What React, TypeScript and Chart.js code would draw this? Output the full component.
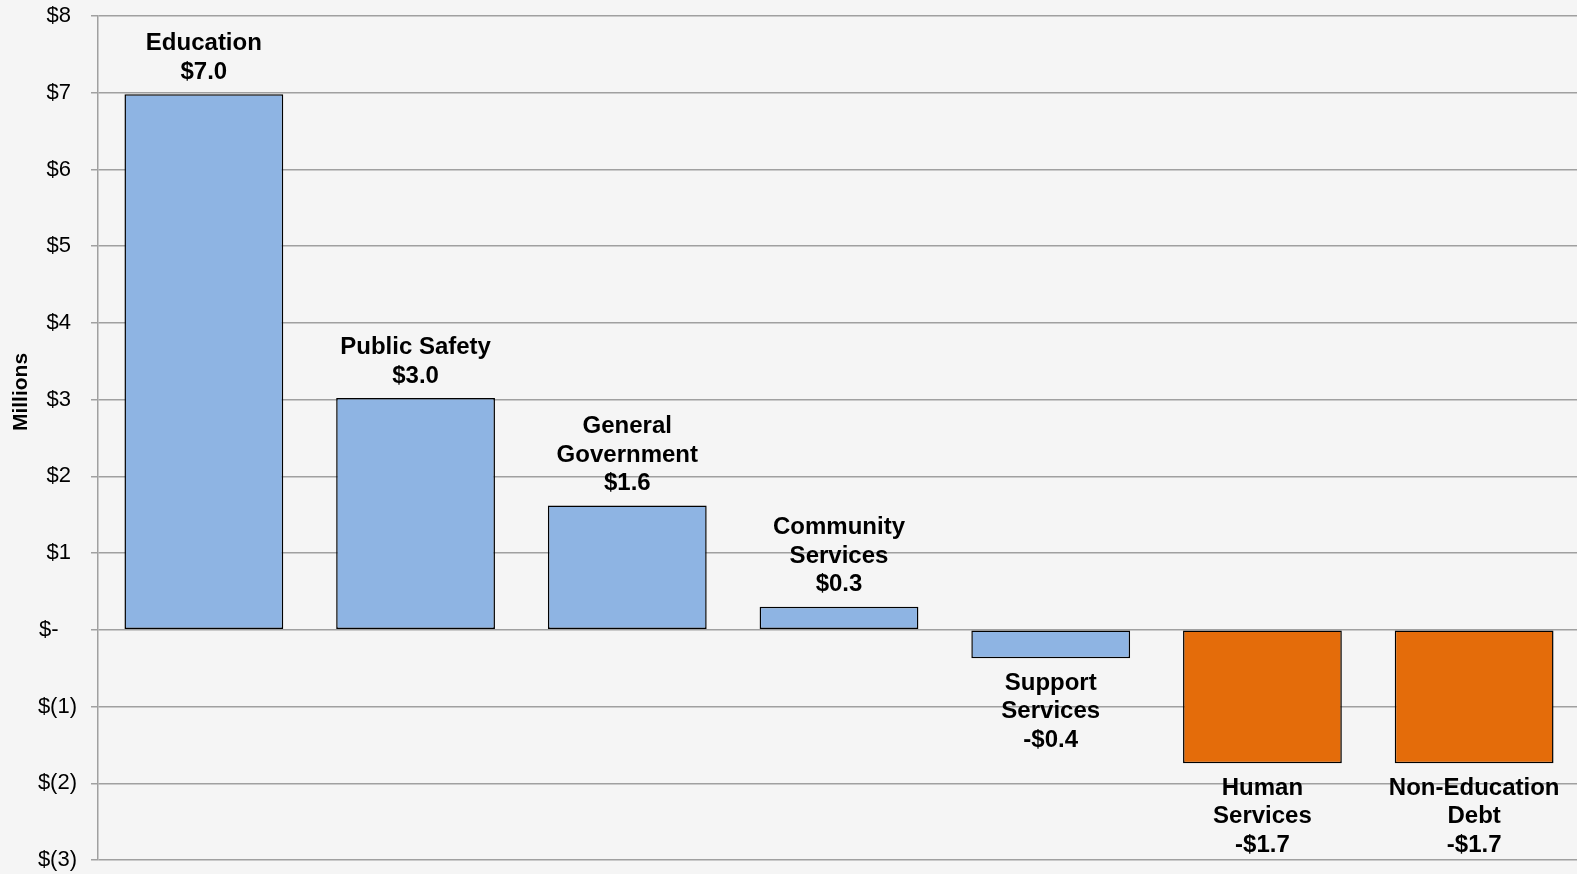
import React, { useEffect, useRef } from "react";
import { Chart, registerables } from "chart.js";

Chart.register(...registerables);

const categories: string[][] = [
  ["Education"],
  ["Public Safety"],
  ["General", "Government"],
  ["Community", "Services"],
  ["Support", "Services"],
  ["Human", "Services"],
  ["Non-Education", "Debt"],
];
const values: number[] = [6.98, 3.02, 1.62, 0.3, -0.37, -1.74, -1.74];
const barColors: string[] = ["#8EB4E3", "#8EB4E3", "#8EB4E3", "#8EB4E3", "#8EB4E3", "#E46C0A", "#E46C0A"];
const tickValues: number[] = [8, 7, 6, 5, 4, 3, 2, 1, 0, -1, -2, -3];
const tickLabels: string[] = ["$8", "$7", "$6", "$5", "$4", "$3", "$2", "$1", "$-", "$(1)", "$(2)", "$(3)"];
const axisTitle = "Millions";

const FONT = '"Liberation Sans", Arial, sans-serif';

function fmt(v: number): string {
  const s = "$" + Math.abs(v).toFixed(1);
  return v < 0 ? "-" + s : s;
}

// accounting-style trailing pad so that digits align like the original axis
function pad(label: string, v: number): string {
  if (v > 0) return label + "\u2008";
  if (v === 0) return label + "\u2007\u2008";
  return label;
}

const labelPlugin = {
  id: "barLabels",
  afterDatasetsDraw(chart: any) {
    const ctx = chart.ctx;
    const meta = chart.getDatasetMeta(0);
    ctx.save();
    ctx.fillStyle = "#000";
    ctx.font = "bold 24px " + FONT;
    ctx.textAlign = "center";
    ctx.textBaseline = "middle";
    const lh = 28.5;
    meta.data.forEach((bar: any, i: number) => {
      const lines = [...categories[i], fmt(values[i])];
      const x = bar.x;
      if (values[i] >= 0) {
        const lastY = bar.y - 22;
        lines.forEach((ln, j) => {
          ctx.fillText(ln, x, lastY - (lines.length - 1 - j) * lh);
        });
      } else {
        const firstY = bar.y + 25;
        lines.forEach((ln, j) => {
          ctx.fillText(ln, x, firstY + j * lh);
        });
      }
    });
    // axis title
    ctx.translate(21, 392);
    ctx.rotate(-Math.PI / 2);
    ctx.font = "bold 21px " + FONT;
    ctx.fillText(axisTitle, 0, 0);
    ctx.restore();
  },
};

const bgPlugin = {
  id: "bg",
  beforeDraw(chart: any) {
    const ctx = chart.ctx;
    ctx.save();
    ctx.fillStyle = "#F5F5F5";
    ctx.fillRect(0, 0, chart.width, chart.height);
    ctx.restore();
  },
};

export default function App() {
  const ref = useRef<HTMLCanvasElement | null>(null);
  useEffect(() => {
    document.body.style.margin = "0";
    document.body.style.overflow = "hidden";
    document.body.style.background = "#F5F5F5";
    const canvas = ref.current!;
    const chart = new Chart(canvas, {
      type: "bar",
      data: {
        labels: categories.map((c) => c.join(" ")),
        datasets: [
          {
            data: values,
            backgroundColor: barColors,
            borderColor: "#000",
            borderWidth: 1.5,
            borderSkipped: false,
            barPercentage: 0.75,
            categoryPercentage: 1,
          },
        ],
      },
      options: {
        animation: false,
        responsive: false,
        devicePixelRatio: 1,
        layout: { padding: { top: 16, bottom: 14, left: 0, right: 0 } },
        plugins: { legend: { display: false }, tooltip: { enabled: false } },
        scales: {
          x: { display: false },
          y: {
            min: -3,
            max: 8,
            afterBuildTicks(scale: any) {
              scale.ticks = tickValues.map((v) => ({ value: v }));
            },
            afterFit(scale: any) {
              scale.width = 98;
              scale.paddingTop = 0;
              scale.paddingBottom = 0;
            },
            ticks: {
              padding: 14,
              color: "#000",
              font: { family: FONT, size: 22 },
              callback: (v: any) => {
                const n = Number(v);
                const i = tickValues.indexOf(n);
                return i >= 0 ? pad(tickLabels[i], n) : "";
              },
            },
            grid: {
              color: "#A0A0A0",
              lineWidth: 1.5,
              tickLength: 7,
              drawTicks: true,
            },
            border: { display: true, color: "#A0A0A0", width: 1.5 },
          },
        },
      },
      plugins: [bgPlugin, labelPlugin],
    });
    return () => chart.destroy();
  }, []);
  return (
    <div style={{ position: "fixed", left: 0, top: 0, width: 1577, height: 874, overflow: "hidden" }}>
      <canvas ref={ref} width={1580} height={874} style={{ display: "block" }} />
    </div>
  );
}
